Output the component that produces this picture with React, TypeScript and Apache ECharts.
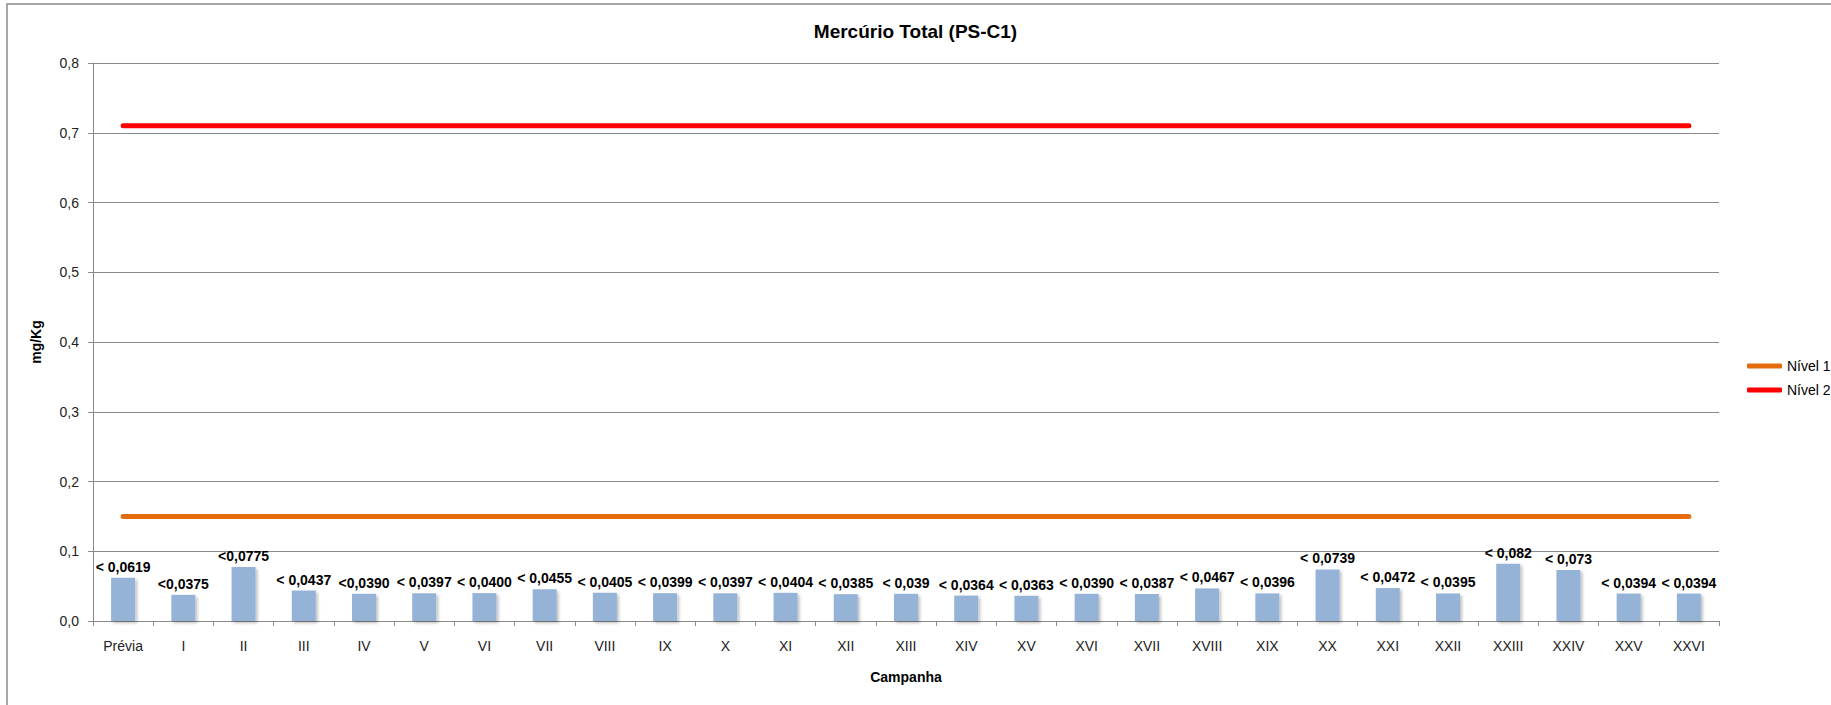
import React, { useEffect, useRef } from "react";
import * as echarts from "echarts";

const categories = ["Prévia", "I", "II", "III", "IV", "V", "VI", "VII", "VIII", "IX", "X", "XI", "XII", "XIII", "XIV", "XV", "XVI", "XVII", "XVIII", "XIX", "XX", "XXI", "XXII", "XXIII", "XXIV", "XXV", "XXVI"];
const mercurio = [0.0619, 0.0375, 0.0775, 0.0437, 0.039, 0.0397, 0.04, 0.0455, 0.0405, 0.0399, 0.0397, 0.0404, 0.0385, 0.039, 0.0364, 0.0363, 0.039, 0.0387, 0.0467, 0.0396, 0.0739, 0.0472, 0.0395, 0.082, 0.073, 0.0394, 0.0394];
const labels = ["< 0,0619", "<0,0375", "<0,0775", "< 0,0437", "<0,0390", "< 0,0397", "< 0,0400", "< 0,0455", "< 0,0405", "< 0,0399", "< 0,0397", "< 0,0404", "< 0,0385", "< 0,039", "< 0,0364", "< 0,0363", "< 0,0390", "< 0,0387", "< 0,0467", "< 0,0396", "< 0,0739", "< 0,0472", "< 0,0395", "< 0,082", "< 0,073", "< 0,0394", "< 0,0394"];
const nivel1 = [0.15, 0.15, 0.15, 0.15, 0.15, 0.15, 0.15, 0.15, 0.15, 0.15, 0.15, 0.15, 0.15, 0.15, 0.15, 0.15, 0.15, 0.15, 0.15, 0.15, 0.15, 0.15, 0.15, 0.15, 0.15, 0.15, 0.15];
const nivel2 = [0.71, 0.71, 0.71, 0.71, 0.71, 0.71, 0.71, 0.71, 0.71, 0.71, 0.71, 0.71, 0.71, 0.71, 0.71, 0.71, 0.71, 0.71, 0.71, 0.71, 0.71, 0.71, 0.71, 0.71, 0.71, 0.71, 0.71];

const FONT = "'Liberation Sans', Arial, sans-serif";
const GRAY = "#8a8a8a";

export default function App() {
  const ref = useRef<HTMLDivElement>(null);
  useEffect(() => {
    if (!ref.current) return;
    const chart = echarts.init(ref.current, null, { renderer: "svg" });
    chart.setOption({
      animation: false,
      backgroundColor: "#ffffff",
      textStyle: { fontFamily: FONT },
      title: {
        text: "Mercúrio Total (PS-C1)",
        left: "center",
        top: 17,
        textStyle: { fontFamily: FONT, fontSize: 19, fontWeight: "bold", color: "#000" },
      },
      graphic: [
        {
          type: "rect",
          shape: { x: 7, y: 4, width: 1900, height: 800 },
          style: { fill: "none", stroke: GRAY, lineWidth: 1.5 },
          z: -10,
          silent: true,
        },
      ],
      legend: {
        data: ["Nível 1", "Nível 2"],
        orient: "vertical",
        left: 1742,
        top: 354,
        itemWidth: 35,
        itemHeight: 5,
        itemGap: 10,
        icon: "roundRect",
        textStyle: { fontFamily: FONT, fontSize: 14, color: "#000" },
      },
      grid: { left: 93, right: 112, top: 63, bottom: 84 },
      xAxis: {
        type: "category",
        data: categories,
        boundaryGap: true,
        name: "Campanha",
        nameLocation: "middle",
        nameGap: 49,
        nameTextStyle: { fontFamily: FONT, fontSize: 14, fontWeight: "bold", color: "#000" },
        axisLine: { lineStyle: { color: GRAY, width: 1 } },
        axisTick: { show: true, alignWithLabel: false, interval: 0, length: 5, lineStyle: { color: GRAY } },
        axisLabel: { interval: 0, margin: 18, fontFamily: FONT, fontSize: 14, color: "#222" },
      },
      yAxis: {
        type: "value",
        min: 0,
        max: 0.8,
        interval: 0.1,
        name: "mg/Kg",
        nameLocation: "middle",
        nameRotate: 90,
        nameGap: 50,
        nameTextStyle: { fontFamily: FONT, fontSize: 14, fontWeight: "bold", color: "#000" },
        axisLine: { show: true, lineStyle: { color: GRAY, width: 1 } },
        axisTick: { show: true, length: 5, lineStyle: { color: GRAY } },
        splitLine: { lineStyle: { color: GRAY, width: 1 } },
        axisLabel: {
          margin: 14,
          fontFamily: FONT,
          fontSize: 14,
          color: "#222",
          formatter: (v: number) => v.toFixed(1).replace(".", ","),
        },
      },
      series: [
        {
          name: "Mercúrio",
          type: "bar",
          data: mercurio,
          barWidth: 24,
          itemStyle: {
            color: "#95b3d7",
            shadowColor: "rgba(0,0,0,0.25)",
            shadowBlur: 3,
            shadowOffsetX: 2,
            shadowOffsetY: 2,
          },
          label: {
            show: true,
            position: "top",
            distance: 4,
            fontFamily: FONT,
            fontSize: 14,
            fontWeight: "bold",
            color: "#000",
            formatter: (p: any) => labels[p.dataIndex],
          },
          z: 2,
        },
        {
          name: "Nível 1",
          type: "line",
          data: nivel1,
          symbol: "none",
          color: "#e46c0a",
          lineStyle: { color: "#e46c0a", width: 5, cap: "round" },
          z: 3,
        },
        {
          name: "Nível 2",
          type: "line",
          data: nivel2,
          symbol: "none",
          color: "#ff0000",
          lineStyle: { color: "#ff0000", width: 5, cap: "round" },
          z: 3,
        },
      ],
    });
    return () => chart.dispose();
  }, []);
  return (
    <div
      ref={ref}
      style={{ position: "fixed", left: 0, top: 0, width: 1831, height: 705 }}
    />
  );
}
